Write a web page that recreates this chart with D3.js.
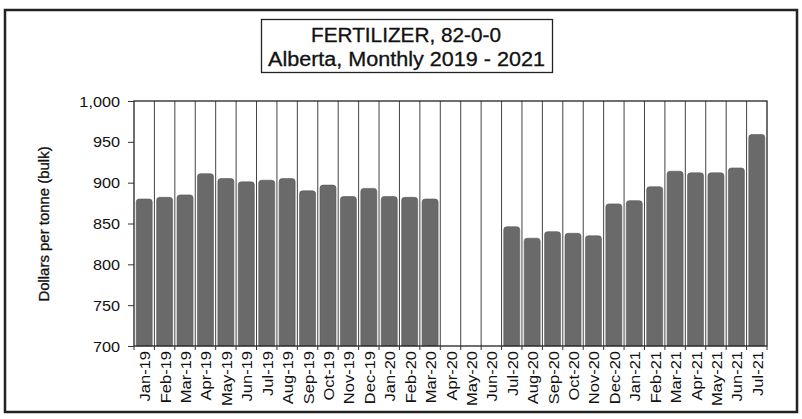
<!DOCTYPE html>
<html><head><meta charset="utf-8">
<script src="https://cdn.jsdelivr.net/npm/d3@7"></script>
<style>body{margin:0;background:#fff}svg{display:block;font-family:Arial,"Liberation Sans",sans-serif}</style>
</head><body><svg id="c" width="802" height="419"></svg>
<script>
const categories = ["Jan-19","Feb-19","Mar-19","Apr-19","May-19","Jun-19","Jul-19","Aug-19","Sep-19","Oct-19","Nov-19","Dec-19","Jan-20","Feb-20","Mar-20","Apr-20","May-20","Jun-20","Jul-20","Aug-20","Sep-20","Oct-20","Nov-20","Dec-20","Jan-21","Feb-21","Mar-21","Apr-21","May-21","Jun-21","Jul-21"];
const prices = [880,882,885,911,905,901,903,905,890,897,883,893,883,882,880,null,null,null,846,832,840,838,835,874,878,895,914,912,912,918,959];
const yTicks = [700,750,800,850,900,950,1000];
const titleLines = ["FERTILIZER, 82-0-0","Alberta, Monthly 2019 - 2021"];
const yLabel = "Dollars per tonne (bulk)";

const svg = d3.select("#c");
const m = {l:134, r:767, t:101, b:346};
const x = d3.scaleBand().domain(categories).range([m.l, m.r]).padding(0);
const y = d3.scaleLinear().domain([700,1000]).range([m.b, m.t]);

function stretch(sel, k){
  sel.each(function(){
    const w = this.getComputedTextLength();
    d3.select(this).attr("textLength", w*k).attr("lengthAdjust","spacingAndGlyphs");
  });
}
function heavy(sel){ sel.attr("stroke","#111").attr("stroke-width",0.3); }

// outer frame
svg.append("rect").attr("x",5).attr("y",10).attr("width",792).attr("height",402)
  .attr("fill","none").attr("stroke","#222").attr("stroke-width",2.5);

// title box
svg.append("rect").attr("x",261.5).attr("y",19.5).attr("width",291).attr("height",53)
  .attr("fill","#fff").attr("stroke","#222").attr("stroke-width",1.3);
const t1 = svg.append("text").attr("x",406).attr("y",42.3).attr("text-anchor","middle")
  .attr("font-size",19.5).attr("fill","#111").text(titleLines[0]);
const t2 = svg.append("text").attr("x",406.5).attr("y",65.5).attr("text-anchor","middle")
  .attr("font-size",19.5).attr("fill","#111").text(titleLines[1]);
t1.attr("textLength",190).attr("lengthAdjust","spacingAndGlyphs");
t2.attr("textLength",277).attr("lengthAdjust","spacingAndGlyphs");
heavy(t1); heavy(t2);

// vertical grid lines at band boundaries
const bounds = categories.slice(1).map(c => x(c));
svg.append("g").selectAll("line").data(bounds).join("line")
  .attr("x1",d=>d).attr("x2",d=>d).attr("y1",m.t).attr("y2",m.b)
  .attr("stroke","#444").attr("stroke-width",1);

// bars with rounded top
const bw = x.bandwidth();
const pad = 2.2;
const r = 3;
svg.append("g").selectAll("path").data(categories.map((c,i)=>({c,v:prices[i]})).filter(d=>d.v!=null))
  .join("path")
  .attr("d", d => {
    const x0 = x(d.c)+pad, x1 = x(d.c)+bw-pad, yt = y(d.v), yb = m.b;
    return `M${x0},${yb}V${yt+r}Q${x0},${yt} ${x0+r},${yt}H${x1-r}Q${x1},${yt} ${x1},${yt+r}V${yb}Z`;
  })
  .attr("fill","#6a6a6a").attr("stroke","#585858").attr("stroke-width",0.6);

// plot frame
svg.append("rect").attr("x",m.l).attr("y",m.t).attr("width",m.r-m.l).attr("height",m.b-m.t)
  .attr("fill","none").attr("stroke","#222").attr("stroke-width",1.3);

// y axis
const ya = svg.append("g").attr("transform",`translate(${m.l},0)`)
  .call(d3.axisLeft(y).tickValues(yTicks).tickSize(6).tickPadding(8).tickFormat(d3.format(",")));
ya.select(".domain").remove();
ya.selectAll("line").attr("stroke","#333");
ya.selectAll("text").attr("font-size",14).attr("fill","#111").attr("font-family","Arial, 'Liberation Sans', sans-serif")
  .attr("dy","0.36em");
stretch(ya.selectAll("text"), 1.16);

// x axis
const xa = svg.append("g").attr("transform",`translate(0,${m.b})`)
  .call(d3.axisBottom(x).tickSize(0).tickPadding(0));
xa.select(".domain").remove();
xa.selectAll("text").attr("font-size",15).attr("fill","#111")
  .attr("font-family","Arial, 'Liberation Sans', sans-serif")
  .attr("text-anchor","end").attr("dy","0.4em")
  .attr("transform","translate(0,5) rotate(-90)").attr("x",0).attr("y",0);
stretch(xa.selectAll("text"), 1.1);
// x tick marks at boundaries
svg.append("g").selectAll("line").data([m.l, ...bounds, m.r]).join("line")
  .attr("x1",d=>d).attr("x2",d=>d).attr("y1",m.b).attr("y2",m.b+4)
  .attr("stroke","#333");

// y label
const yl = svg.append("text").attr("transform","translate(49,224) rotate(-90)")
  .attr("text-anchor","middle").attr("font-size",14.5).attr("fill","#111").text(yLabel);
stretch(yl, 1.03);
heavy(yl);
</script></body></html>
